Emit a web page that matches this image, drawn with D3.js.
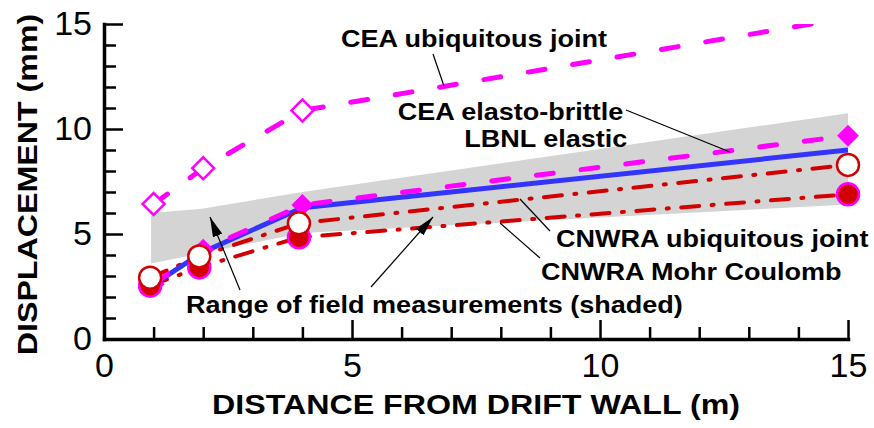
<!DOCTYPE html>
<html>
<head>
<meta charset="utf-8">
<script src="https://cdn.jsdelivr.net/npm/d3@7"></script>
<style>
  html, body { margin: 0; padding: 0; background: #ffffff; }
  svg { display: block; }
  text { font-family: "Liberation Sans", Arial, Helvetica, sans-serif; fill: #000; }
</style>
</head>
<body>
<svg id="chart" width="874" height="428"></svg>
<script>
// ---------------- DATA ----------------
const xMajorTicks = [0, 5, 10, 15];
const yMajorTicks = [0, 5, 10, 15];
const xMinorTicks = [1, 2, 3, 4, 6, 7, 8, 9, 11, 12, 13, 14];
const yMinorTicks = [1, 2, 3, 4, 6, 7, 8, 9, 11, 12, 13, 14];
const xTickLabels = ["0", "5", "10", "15"];
const yTickLabels = ["0", "5", "10", "15"];
const xTitle = "DISTANCE FROM DRIFT WALL (m)";
const yTitle = "DISPLACEMENT (mm)";

// range of field measurements (shaded band)
const fieldX     = [0.95, 1.97, 4, 15];
const fieldUpper = [6.0, 6.2, 7.0, 10.75];
const fieldLower = [3.6, 4.08, 5.05, 6.4];

// CEA ubiquitous joint (open diamonds, magenta dashed)
const ceaUjX = [1, 2, 4, 15];
const ceaUjY = [6.43, 8.13, 10.88, 15.3];

// CEA elasto-brittle (filled diamonds, magenta dashed)
const ceaEbX = [1, 2, 4, 15];
const ceaEbY = [2.62, 4.25, 6.38, 9.68];

// LBNL elastic (blue solid)
const lbnlX = [1, 2, 4, 15];
const lbnlY = [2.6, 4.15, 6.25, 9.0];

// CNWRA ubiquitous joint (open circles, red dash-dot)
const cnUjX = [0.93, 1.92, 3.93, 15];
const cnUjY = [2.92, 3.93, 5.51, 8.29];

// CNWRA Mohr Coulomb (filled circles, red dash-dot)
const cnMcX = [0.93, 1.92, 3.93, 15];
const cnMcY = [2.54, 3.41, 4.84, 6.89];

// annotation labels (data coordinates)
const labelTexts  = ["CEA ubiquitous joint", "CEA elasto-brittle", "LBNL elastic",
                     "CNWRA ubiquitous joint", "CNWRA Mohr Coulomb", "Range of field measurements (shaded)"];
const labelX      = [4.778, 10.47, 10.55, 9.113, 8.81, 1.653];
const labelY      = [13.905, 10.43, 9.143, 4.40, 2.81, 1.24];
const labelAnchor = ["start", "end", "end", "start", "start", "start"];

// leader lines (data coordinates): x1, y1, x2, y2
const leaderX1 = [6.633, 10.524, 8.387, 7.984];
const leaderY1 = [13.571, 10.905, 6.667, 5.524];
const leaderX2 = [6.855, 12.621, 8.992, 8.790];
const leaderY2 = [12.048, 8.905, 5.143, 3.857];

// arrows (data coordinates): from (x1,y1) to tip (x2,y2)
const arrowX1 = [2.742, 5.383];
const arrowY1 = [2.333, 2.476];
const arrowX2 = [2.137, 6.633];
const arrowY2 = [5.810, 5.810];

// ---------------- CHART ----------------
const svg = d3.select("#chart");
const x = d3.scaleLinear().domain([0, 15]).range([104, 848]);
const y = d3.scaleLinear().domain([0, 15]).range([339, 24]);

const MAGENTA = "#ff00ff", BLUE = "#3434ff", RED = "#d20000", GRAY = "#d4d4d4";

svg.append("defs").append("clipPath").attr("id", "plotclip")
  .append("rect").attr("x", x(0)).attr("y", y(15)).attr("width", x(15) - x(0)).attr("height", y(0) - y(15));

svg.append("defs").append("marker")
  .attr("id", "arrowhead").attr("viewBox", "0 0 20 10")
  .attr("refX", 20).attr("refY", 5)
  .attr("markerUnits", "userSpaceOnUse")
  .attr("markerWidth", 20).attr("markerHeight", 10)
  .attr("orient", "auto")
  .append("path").attr("d", "M0,0 L20,5 L0,10 Z").attr("fill", "#000");

const plot = svg.append("g").attr("clip-path", "url(#plotclip)");

// shaded band
const band = fieldX.map((d, i) => ({ x: d, lo: fieldLower[i], hi: fieldUpper[i] }));
plot.append("path").datum(band)
  .attr("fill", GRAY)
  .attr("d", d3.area().x(d => x(d.x)).y0(d => y(d.lo)).y1(d => y(d.hi)));

const line = d3.line().x(d => x(d[0])).y(d => y(d[1]));
const zip = (xs, ys) => xs.map((v, i) => [v, ys[i]]);

// lines
plot.append("path").datum(zip(cnMcX, cnMcY))
  .attr("fill", "none").attr("stroke", RED).attr("stroke-width", 4)
  .attr("stroke-linecap", "round").attr("stroke-dasharray", "18,12.5,2,12.5")
  .attr("d", line);
plot.append("path").datum(zip(cnUjX, cnUjY))
  .attr("fill", "none").attr("stroke", RED).attr("stroke-width", 4)
  .attr("stroke-linecap", "round").attr("stroke-dasharray", "18,12.5,2,12.5")
  .attr("d", line);
plot.append("path").datum(zip(lbnlX, lbnlY))
  .attr("fill", "none").attr("stroke", BLUE).attr("stroke-width", 5)
  .attr("d", line);
plot.append("path").datum(zip(ceaEbX, ceaEbY))
  .attr("fill", "none").attr("stroke", MAGENTA).attr("stroke-width", 5)
  .attr("stroke-linecap", "round").attr("stroke-dasharray", "17,28")
  .attr("d", line);
plot.append("path").datum(zip(ceaUjX, ceaUjY))
  .attr("fill", "none").attr("stroke", MAGENTA).attr("stroke-width", 5)
  .attr("stroke-linecap", "round").attr("stroke-dasharray", "17,28")
  .attr("d", line);

// markers
const diamond = d3.symbol().type(d3.symbolSquare).size(240);
const circle = d3.symbol().type(d3.symbolCircle).size(Math.PI * 11 * 11);
const mk = svg.append("g").attr("clip-path", null);

mk.selectAll(".dfill").data(zip(ceaEbX, ceaEbY)).join("path")
  .attr("d", diamond).attr("transform", d => `translate(${x(d[0])},${y(d[1])}) rotate(45)`)
  .attr("fill", MAGENTA);
mk.selectAll(".dopen").data(zip(ceaUjX, ceaUjY).filter(d => d[1] <= 15)).join("path")
  .attr("d", diamond).attr("transform", d => `translate(${x(d[0])},${y(d[1])}) rotate(45)`)
  .attr("fill", "#fff").attr("stroke", MAGENTA).attr("stroke-width", 2.5);
mk.selectAll(".cfill").data(zip(cnMcX, cnMcY)).join("path")
  .attr("d", circle).attr("transform", d => `translate(${x(d[0])},${y(d[1])})`)
  .attr("fill", RED).attr("stroke", MAGENTA).attr("stroke-width", 2.5);
mk.selectAll(".copen").data(zip(cnUjX, cnUjY)).join("path")
  .attr("d", circle).attr("transform", d => `translate(${x(d[0])},${y(d[1])})`)
  .attr("fill", "#fff").attr("stroke", RED).attr("stroke-width", 2.5);

// axes
const tickFontSize = 34;
const xAxis = svg.append("g").attr("transform", `translate(0,${y(0)})`)
  .call(d3.axisBottom(x).tickValues(xMajorTicks).tickFormat((d, i) => xTickLabels[i])
    .tickSizeInner(-19).tickSizeOuter(0).tickPadding(14));
svg.append("g").attr("transform", `translate(0,${y(0)})`)
  .call(d3.axisBottom(x).tickValues(xMinorTicks).tickFormat("").tickSizeInner(-12).tickSizeOuter(0))
  .select(".domain").remove();
const yAxis = svg.append("g").attr("transform", `translate(${x(0)},0)`)
  .call(d3.axisLeft(y).tickValues(yMajorTicks).tickFormat((d, i) => yTickLabels[i])
    .tickSizeInner(-19).tickSizeOuter(0).tickPadding(12));
svg.append("g").attr("transform", `translate(${x(0)},0)`)
  .call(d3.axisLeft(y).tickValues(yMinorTicks).tickFormat("").tickSizeInner(-12).tickSizeOuter(0))
  .select(".domain").remove();

svg.selectAll(".domain").attr("stroke", "#000").attr("stroke-width", 3.5).attr("stroke-linecap", "square");
svg.selectAll(".tick line").attr("stroke", "#000").attr("stroke-width", 2.5);
svg.selectAll(".tick text").attr("font-size", tickFontSize)
  .attr("font-family", "Liberation Sans, Arial, sans-serif").attr("fill", "#000");

// axis titles
const SX = 1.15;
svg.append("text")
  .attr("transform", `translate(${(x(0) + x(15)) / 2},414) scale(${SX},1)`)
  .attr("text-anchor", "middle").attr("font-weight", "bold").attr("font-size", 28)
  .text(xTitle);
svg.append("text")
  .attr("transform", `translate(37,${(y(0) + y(15)) / 2 + 3}) rotate(-90) scale(${SX},1)`)
  .attr("text-anchor", "middle").attr("font-weight", "bold").attr("font-size", 28)
  .text(yTitle);

// leader lines
leaderX1.forEach((v, i) => {
  svg.append("line")
    .attr("x1", x(v)).attr("y1", y(leaderY1[i]))
    .attr("x2", x(leaderX2[i])).attr("y2", y(leaderY2[i]))
    .attr("stroke", "#000").attr("stroke-width", 1.2);
});
// arrows
arrowX1.forEach((v, i) => {
  svg.append("line")
    .attr("x1", x(v)).attr("y1", y(arrowY1[i]))
    .attr("x2", x(arrowX2[i])).attr("y2", y(arrowY2[i]))
    .attr("stroke", "#000").attr("stroke-width", 1.2)
    .attr("marker-end", "url(#arrowhead)");
});

// labels
labelTexts.forEach((t, i) => {
  svg.append("text")
    .attr("transform", `translate(${x(labelX[i])},${y(labelY[i])}) scale(${SX},1)`)
    .attr("text-anchor", labelAnchor[i])
    .attr("font-weight", "bold").attr("font-size", 23.5)
    .text(t);
});
</script>
</body>
</html>
